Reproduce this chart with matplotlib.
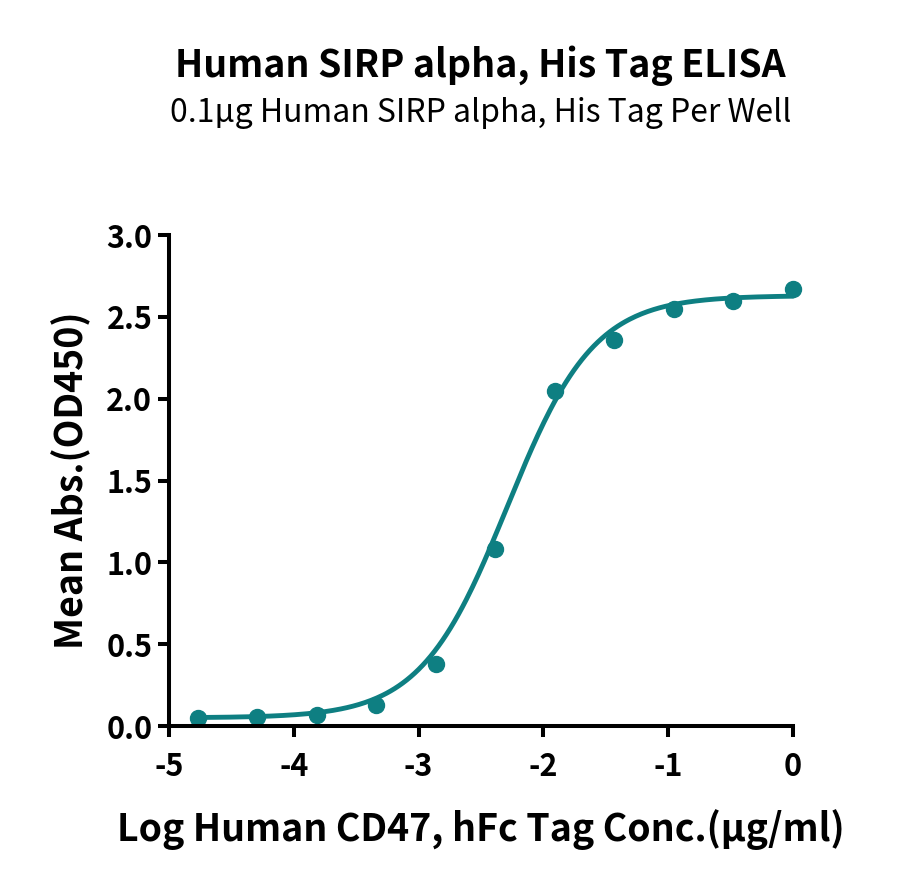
import matplotlib.pyplot as plt
import numpy as np

plt.rcParams['font.family'] = ['Noto Sans CJK SC', 'DejaVu Sans']

# log10 concentration (ug/ml), 3-fold dilutions
logconc = [-4.771, -4.294, -3.817, -3.340, -2.863, -2.386, -1.908, -1.431, -0.954, -0.477, 0.0]
od450 = [0.05, 0.055, 0.07, 0.13, 0.38, 1.08, 2.05, 2.36, 2.55, 2.60, 2.67]

# 4PL fit parameters
bottom = 0.05
top = 2.63
logec50 = -2.29
hill = 1.25

xticks = [-5, -4, -3, -2, -1, 0]
yticks = [0.0, 0.5, 1.0, 1.5, 2.0, 2.5, 3.0]

col = '#0E7F82'

fig = plt.figure(figsize=[9, 8.88], dpi=100)
ax = fig.add_axes([0.1878, 0.1824, 0.6933, 0.5529])

xf = np.linspace(logconc[0], logconc[-1], 300)
yf = bottom + (top - bottom) / (1 + 10**((logec50 - xf) * hill))
ax.plot(xf, yf, color=col, lw=3.5, solid_capstyle='round', clip_on=False)
ax.plot(logconc, od450, 'o', color=col, ms=11.5, clip_on=False)

ax.set_xlim(-5, 0)
ax.set_ylim(0, 3.0)
ax.set_xticks(xticks)
ax.set_xticklabels(['%d' % v for v in xticks])
ax.set_yticks(yticks)
ax.set_yticklabels(['%.1f' % v for v in yticks])

for s in ['top', 'right']:
    ax.spines[s].set_visible(False)
for s in ['left', 'bottom']:
    ax.spines[s].set_linewidth(2.9)
ax.tick_params(width=2.9, length=8, labelsize=22)
for lab in ax.get_xticklabels() + ax.get_yticklabels():
    lab.set_fontweight('black')
ax.tick_params(axis='x', pad=10)
ax.tick_params(axis='y', pad=4)

ax.set_xlabel('Log Human CD47, hFc Tag Conc.(µg/ml)', fontsize=27, fontweight='black', labelpad=19)
ax.set_ylabel('Mean Abs.(OD450)', fontsize=27, fontweight='black', labelpad=11)

fig.text(0.534, 0.926, 'Human SIRP alpha, His Tag ELISA', ha='center', va='center',
         fontsize=27, fontweight='black')
fig.text(0.534, 0.873, '0.1µg Human SIRP alpha, His Tag Per Well', ha='center', va='center',
         fontsize=23)

fig.savefig('out.png', dpi=100)
